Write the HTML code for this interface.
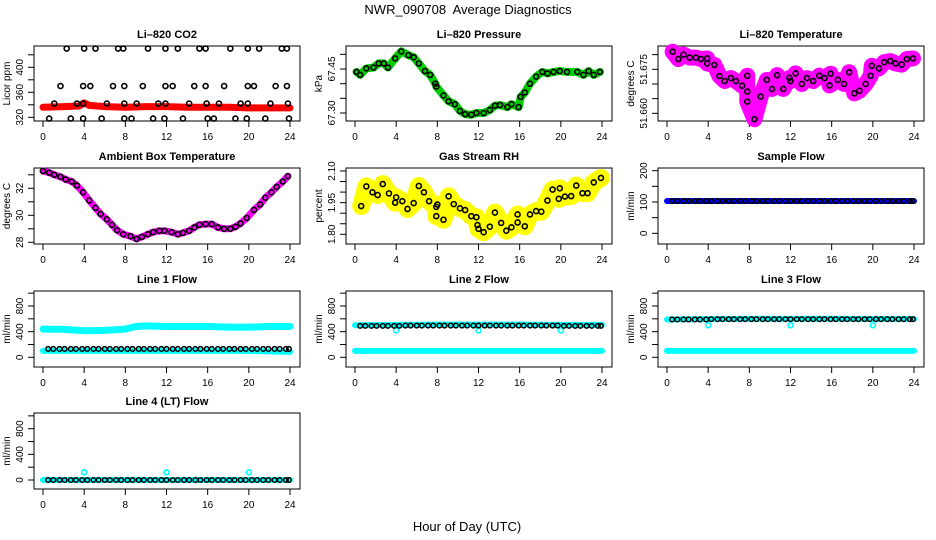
<!DOCTYPE html>
<html><head><meta charset="utf-8"><style>
html,body{margin:0;padding:0;background:#fff;}
svg{display:block;font-family:"Liberation Sans",sans-serif;}
</style></head><body>
<svg id="chart" width="936" height="540" viewBox="0 0 936 540" xmlns="http://www.w3.org/2000/svg">
<rect x="0" y="0" width="936" height="540" fill="#fff"/>
<text x="468" y="14" text-anchor="middle" font-size="13">NWR_090708&#160; Average Diagnostics</text>
<text x="467" y="531" text-anchor="middle" font-size="13">Hour of Day (UTC)</text>
</svg>
<script>
// ---------- data ----------
const xTicks = [0,4,8,12,16,20,24];
const gridHours = [0.5,1.0,1.6,2.1,2.7,3.2,3.8,4.3,4.9,5.4,6.0,6.5,7.1,7.6,8.2,8.7,9.3,9.8,10.4,10.9,11.5,12.0,12.6,13.1,13.7,14.2,14.8,15.3,15.9,16.4,17.0,17.5,18.1,18.6,19.2,19.7,20.3,20.8,21.4,21.9,22.5,23.0,23.6,23.9];

const co2Hours = [0.6,2.7,3.9,5.7,7.9,8.6,10.7,11.8,13.6,16.0,16.6,18.7,19.8,21.6,23.9, 1.1,3.3,3.9,6.2,7.9,9.1,11.2,11.9,14.2,15.9,17.1,19.2,19.9,22.1,23.8, 1.7,3.9,4.6,6.8,7.9,9.7,11.9,12.6,14.7,15.8,17.6,19.9,20.5,22.6,23.7, 2.3,4.0,5.1,7.3,7.8,10.2,11.9,13.1,15.2,15.8,18.2,19.9,21.0,23.2,23.7];
const co2Values = [318,318,318,318,318,318,318,318,318,318,318,318,318,318,318, 342,342,342,342,342,342,342,342,342,342,342,342,342,342,342, 370,370,370,370,370,370,370,370,370,370,370,370,370,370,370, 430,430,430,430,430,430,430,430,430,430,430,430,430,430,430];
const co2BandHours = [0,2,3.5,4,4.5,6,8,10,12,14,16,18,20,22,24];
const co2BandValues = [336,337,338,343,339,337,336,337,337,336,336,336,335,335,335];

const presHours = [0.15,0.5,1.1,1.8,2.3,2.8,3.2,3.9,4.5,5.2,5.7,6.2,6.8,7.3,7.8,7.9,8.6,9.1,9.7,10.2,10.7,11.3,11.8,12.5,13.1,13.6,14.1,14.8,15.2,15.9,16.1,16.5,17.0,17.6,18.2,18.7,19.3,19.9,20.6,21.6,22.2,22.7,23.2,23.8];
const presValues = [67.44,67.43,67.452,67.455,67.469,67.469,67.455,67.486,67.51,67.497,67.49,67.469,67.443,67.43,67.40,67.39,67.36,67.34,67.33,67.307,67.296,67.294,67.30,67.30,67.31,67.325,67.327,67.32,67.33,67.32,67.355,67.37,67.40,67.424,67.44,67.435,67.44,67.443,67.44,67.44,67.43,67.443,67.43,67.44];

const tempHours = [0.55,1.1,1.6,2.2,2.8,3.3,3.9,3.9,4.6,5.1,5.6,6.2,6.7,7.3,7.8,7.8,7.8,8.5,9.1,9.7,10.2,10.7,11.3,11.9,12.0,12.5,13.1,13.6,14.2,14.8,15.3,15.9,15.8,16.6,17.2,17.7,18.2,18.7,19.3,19.8,19.9,20.6,21.1,21.7,22.2,22.8,23.3,23.9];
const tempValues = [51.681,51.6785,51.680,51.679,51.679,51.6785,51.6787,51.677,51.6765,51.6727,51.671,51.672,51.671,51.6694,51.6728,51.6674,51.664,51.658,51.6657,51.6714,51.6683,51.673,51.6683,51.6721,51.671,51.6736,51.670,51.672,51.671,51.6728,51.672,51.6735,51.6695,51.6714,51.670,51.674,51.6668,51.6677,51.670,51.6728,51.6762,51.6753,51.6774,51.6778,51.677,51.6766,51.6785,51.6787];

const ambHours = [0,0.6,1.1,1.7,2.2,2.8,3.3,3.9,4.5,5.1,5.6,6.2,6.7,7.2,7.8,8.5,9.1,9.6,10.2,10.7,11.3,11.8,12.5,13.1,13.6,14.2,14.7,15.2,15.8,16.4,17.0,17.6,18.2,18.7,19.2,19.8,20.5,21.1,21.6,22.2,22.7,23.3,23.8];
const ambValues = [33.28,33.16,33.0,32.85,32.66,32.5,32.2,31.7,31.1,30.55,30.1,29.7,29.3,28.9,28.6,28.45,28.25,28.4,28.6,28.75,28.85,28.85,28.75,28.6,28.7,28.85,29.1,29.3,29.35,29.35,29.1,29.0,29.0,29.15,29.4,29.8,30.4,30.8,31.3,31.7,32.1,32.5,32.9];

const rhHours = [0.6,1.1,1.7,2.2,2.7,3.3,3.9,4.0,4.6,5.1,5.7,6.2,6.7,7.2,7.9,7.9,8.0,8.6,9.1,9.6,10.2,10.7,11.3,11.8,11.9,12.0,12.5,13.1,13.6,14.2,14.7,15.2,15.8,15.8,16.5,17.0,17.6,18.1,18.7,19.2,19.8,19.9,20.4,21.0,21.5,22.1,22.6,23.2,23.9];
const rhValues = [1.934,2.027,1.999,1.986,2.038,1.994,1.95,1.975,1.957,1.92,1.948,2.029,1.999,1.957,1.93,1.886,1.941,1.869,1.98,1.943,1.923,1.915,1.886,1.881,1.844,1.826,1.81,1.836,1.903,1.854,1.817,1.833,1.894,1.856,1.838,1.894,1.91,1.907,1.96,2.012,1.968,2.018,1.979,1.981,2.031,1.995,1.995,2.046,2.067];

const sampleValues = [103,103,103,103,103,103,103,103,103,103,103,103,103,103,103,103,103,103,103,103,103,103,103,103,103,103,103,103,103,103,103,103,103,103,103,103,103,103,103,103,103,103,103,103];
const line1Values = [130,130,130,130,130,130,130,130,130,130,130,130,130,130,130,130,130,130,130,130,130,130,130,130,130,130,130,130,130,130,130,130,130,130,130,130,130,130,130,130,130,130,130,130];
const line2Values = [490,490,490,490,490,490,490,490,495,495,495,495,495,495,495,495,495,495,495,495,495,495,495,495,495,495,495,495,495,495,495,495,495,495,495,495,490,490,490,490,490,490,490,490];
const line3Values = [590,590,590,590,590,590,590,595,595,595,595,595,595,595,595,595,595,595,595,595,595,595,595,595,595,595,595,595,595,595,595,595,595,595,595,595,595,595,595,595,595,595,595,595];
const line4Values = [0,0,0,0,0,0,0,0,0,0,0,0,0,0,0,0,0,0,0,0,0,0,0,0,0,0,0,0,0,0,0,0,0,0,0,0,0,0,0,0,0,0,0,0];

const bandHours = [0,4,8,12,16,20,24];
const sampleBand = [103,103,103,103,103,103,103];
const line1UpperHours = [0,2,4,6,8,9,10,12,14,16,18,20,22,24];
const line1Upper = [440,435,415,420,440,480,490,480,480,480,470,470,480,480];
const line1Lower = [100,100,100,100,100,100,85];
const line2Upper = [500,505,510,510,510,505,505];
const lowerFlow = [100,100,100,100,100,100,100];
const line3Upper = [590,595,600,600,600,598,598];
const line4Band = [0,0,0,0,0,0,0];
const spikeHours = [4,12,20];
const line2Dips = [420,420,420];
const line3Dips = [500,500,500];
const line4Spikes = [120,120,120];

// ---------- drawing ----------
const svg = document.getElementById('chart');
const NS = 'http://www.w3.org/2000/svg';
const rowTop = [46,168,291,413];
const rowBot = [121,244,367,489];
function mk(tag, parent){ const e=document.createElementNS(NS,tag); parent.appendChild(e); return e; }

function panel(id, c, r, title, ylab, v0, y0, v1, y1, ticks, labels, fmt){
  const g = mk('g', svg);
  
  
  const left = 34 + 312*c, right = 300 + 312*c, top = rowTop[r], bot = rowBot[r];
  const xs = h => 43 + 312*c + h*247/24;
  const ys = v => y0 + (v - v0)*(y1 - y0)/(v1 - v0);
  const box = mk('rect', g);
  
  
  box.setAttribute('x', left); box.setAttribute('y', top);
  box.setAttribute('width', right-left); box.setAttribute('height', bot-top);
  box.setAttribute('fill','none'); box.setAttribute('stroke','#000'); box.setAttribute('stroke-width','1');
  const t = mk('text', g);
  
  
  t.setAttribute('x', (left+right)/2); t.setAttribute('y', top-8);
  t.setAttribute('text-anchor','middle'); t.setAttribute('font-size','11'); t.setAttribute('font-weight','bold');
  t.textContent = title;
  const yl = mk('text', g);
  
  
  const cy = (top+bot)/2;
  yl.setAttribute('transform', 'translate(' + (left-24) + ',' + cy + ') rotate(-90)');
  yl.setAttribute('text-anchor','middle'); yl.setAttribute('font-size','10');
  yl.textContent = ylab;
  xTicks.forEach(h => {
    const l = mk('line', g);
    
    
    l.setAttribute('x1', xs(h)); l.setAttribute('x2', xs(h)); l.setAttribute('y1', bot); l.setAttribute('y2', bot+6);
    l.setAttribute('stroke','#000');
    const tx = mk('text', g);
    
    
    tx.setAttribute('x', xs(h)); tx.setAttribute('y', bot+19);
    tx.setAttribute('text-anchor','middle'); tx.setAttribute('font-size','10');
    tx.textContent = String(h);
  });
  ticks.forEach(v => {
    const l = mk('line', g);
    
    
    l.setAttribute('x1', left-6); l.setAttribute('x2', left); l.setAttribute('y1', ys(v)); l.setAttribute('y2', ys(v));
    l.setAttribute('stroke','#000');
  });
  labels.forEach(v => {
    const tx = mk('text', g);
    
    
    tx.setAttribute('transform', 'translate(' + (left-11) + ',' + ys(v) + ') rotate(-90)');
    tx.setAttribute('text-anchor','middle'); tx.setAttribute('font-size','10');
    tx.textContent = fmt(v);
  });
  const clipG = mk('g', g);
  return {g: clipG, xs, ys};
}

function band(p, name, hours, vals, color, w){
  const pl = mk('polyline', p.g);
  
  
  pl.setAttribute('points', hours.map((h,i) => p.xs(h) + ',' + p.ys(vals[i])).join(' '));
  pl.setAttribute('fill','none'); pl.setAttribute('stroke', color); pl.setAttribute('stroke-width', w);
  pl.setAttribute('stroke-linejoin','round'); pl.setAttribute('stroke-linecap','round');
}
function dots(p, name, hours, vals, color, r, sw){
  hours.forEach((h,i) => {
    const ci = mk('circle', p.g);
    
    
    ci.setAttribute('cx', p.xs(h)); ci.setAttribute('cy', p.ys(vals[i])); ci.setAttribute('r', r);
    ci.setAttribute('fill','none'); ci.setAttribute('stroke', color); ci.setAttribute('stroke-width', sw);
  });
}
const f0 = v => String(v);
const f2 = v => v.toFixed(2);
const f3 = v => v.toFixed(3);

let p = panel('co2', 0, 0, 'Li\u2013820 CO2', 'Licor ppm', 320, 117.3, 400, 67.3, [320,340,360,380,400,420], [320,360,400], f0);
band(p, 'co2-band', co2BandHours, co2BandValues, '#ff0000', 7);
dots(p, 'co2-point', co2Hours, co2Values, '#000', 2.5, 1.6);

p = panel('pressure', 1, 0, 'Li\u2013820 Pressure', 'kPa', 67.30, 113, 67.45, 69, [67.30,67.35,67.40,67.45,67.50], [67.30,67.45], f2);
band(p, 'pressure-band', presHours, presValues, '#00cc00', 8);
dots(p, 'pressure-point', presHours, presValues, '#000', 2.5, 1.6);

p = panel('li820-temp', 2, 0, 'Li\u2013820 Temperature', 'degrees C', 51.660, 113.3, 51.675, 69.3, [51.660,51.665,51.670,51.675,51.680], [51.660,51.675], f3);
band(p, 'li820-temp-band', tempHours, tempValues, '#ff00ff', 16);
dots(p, 'li820-temp-point', tempHours, tempValues, '#000', 2.5, 1.6);

p = panel('ambient', 0, 1, 'Ambient Box Temperature', 'degrees C', 28, 242.3, 32, 188.3, [28,29,30,31,32,33], [28,30,32], f0);
band(p, 'ambient-band', ambHours, ambValues, '#ff00ff', 7);
dots(p, 'ambient-point', ambHours, ambValues, '#000', 2.5, 1.6);

p = panel('rh', 1, 1, 'Gas Stream RH', 'percent', 1.80, 234.3, 2.10, 171, [1.80,1.85,1.90,1.95,2.00,2.05,2.10], [1.80,1.95,2.10], f2);
band(p, 'rh-band', rhHours, rhValues, '#ffff00', 18);
dots(p, 'rh-point', rhHours, rhValues, '#000', 2.5, 1.6);

p = panel('sample-flow', 2, 1, 'Sample Flow', 'ml/min', 0, 233.3, 200, 170.7, [0,50,100,150,200], [0,100,200], f0);
band(p, 'sample-band', bandHours, sampleBand, '#0000ff', 6);
dots(p, 'sample-point', gridHours, sampleValues, '#000', 2.3, 1.5);

const flowTicks = [0,200,400,600,800,1000], flowLabels = [0,400,800];
p = panel('line1', 0, 2, 'Line 1 Flow', 'ml/min', 0, 357.3, 800, 306, flowTicks, flowLabels, f0);
band(p, 'line1-upper-band', line1UpperHours, line1Upper, '#00ffff', 7);
band(p, 'line1-lower-band', bandHours, line1Lower, '#00ffff', 6);
dots(p, 'line1-point', gridHours, line1Values, '#000', 2.3, 1.5);

p = panel('line2', 1, 2, 'Line 2 Flow', 'ml/min', 0, 357.3, 800, 306, flowTicks, flowLabels, f0);
band(p, 'line2-upper-band', bandHours, line2Upper, '#00ffff', 6);
band(p, 'line2-lower-band', bandHours, lowerFlow, '#00ffff', 6);
dots(p, 'line2-dip', spikeHours, line2Dips, '#00ffff', 2.5, 1.6);
dots(p, 'line2-point', gridHours, line2Values, '#000', 2.3, 1.5);

p = panel('line3', 2, 2, 'Line 3 Flow', 'ml/min', 0, 357.3, 800, 306, flowTicks, flowLabels, f0);
band(p, 'line3-upper-band', bandHours, line3Upper, '#00ffff', 6);
band(p, 'line3-lower-band', bandHours, lowerFlow, '#00ffff', 6);
dots(p, 'line3-dip', spikeHours, line3Dips, '#00ffff', 2.5, 1.6);
dots(p, 'line3-point', gridHours, line3Values, '#000', 2.3, 1.5);

p = panel('line4', 0, 3, 'Line 4 (LT) Flow', 'ml/min', 0, 480, 800, 428.7, flowTicks, flowLabels, f0);
band(p, 'line4-band', bandHours, line4Band, '#00ffff', 6);
dots(p, 'line4-spike', spikeHours, line4Spikes, '#00ffff', 2.5, 1.6);
dots(p, 'line4-point', gridHours, line4Values, '#000', 2.3, 1.5);
</script>
</body></html>
